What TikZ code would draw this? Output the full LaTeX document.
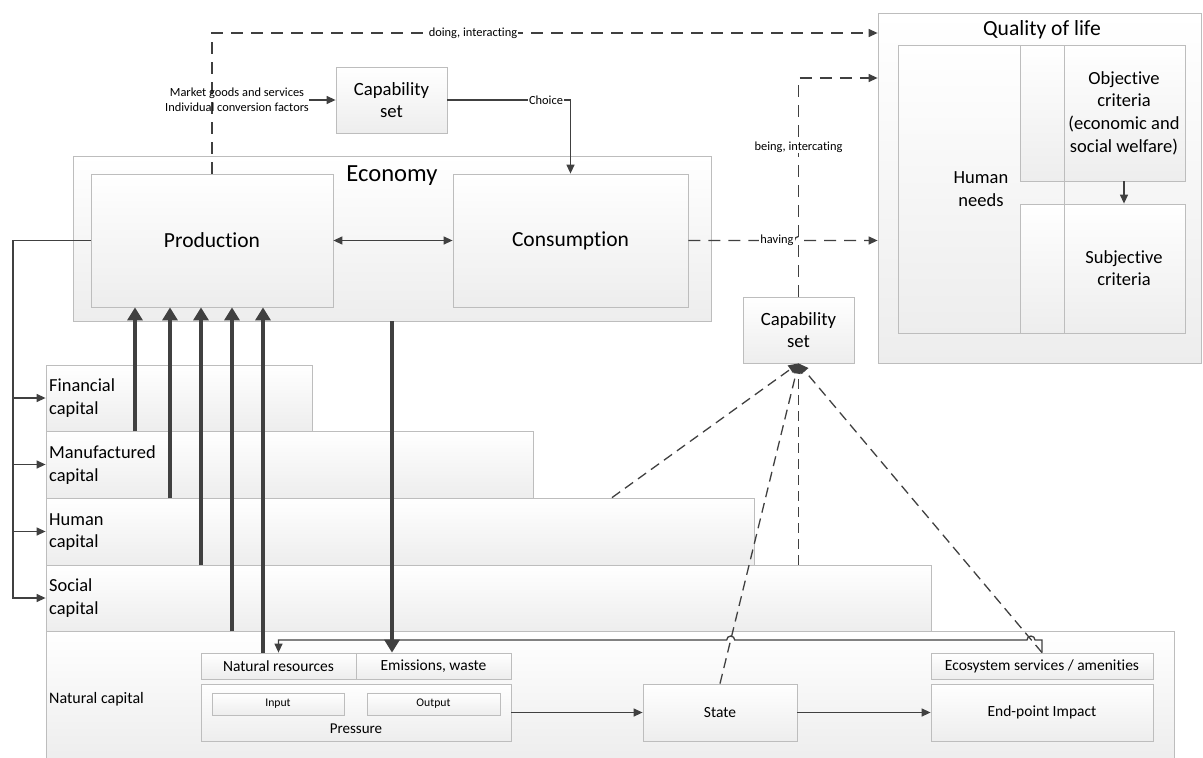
\documentclass[tikz,border=0pt]{standalone}
\usepackage{fontspec}
\setmainfont{Carlito}[Ligatures=NoCommon]
\usetikzlibrary{arrows.meta,shadows}
\definecolor{lnc}{HTML}{404040}
\definecolor{bd}{HTML}{BDBDBD}
\newcommand\myfs[2]{\fontsize{#1}{#2}\selectfont}
\begin{document}
\begin{tikzpicture}[x=1pt,y=-1pt,
  box/.style={draw=bd,line width=0.8pt,top color=white,bottom color=black!7,
    drop shadow={shadow xshift=1.2pt,shadow yshift=-1.2pt,fill=black,opacity=0.12},
    inner sep=0pt,align=center,text=black},
  txtA/.style={font=\myfs{18.5}{22.7},align=center,inner sep=0pt},
  captxt/.style={font=\myfs{18.4}{22.7},align=left,inner sep=0pt,anchor=west},
  lbl/.style={fill=white,inner sep=1pt,font=\myfs{12.4}{14.7}},
  ar/.style={draw=lnc,line width=1.3pt,-{Triangle[length=9pt,width=8pt]}},
  ar2/.style={draw=lnc,line width=1.3pt,-{Triangle[length=10pt,width=9pt]}},
  thk/.style={draw=lnc,line width=4.5pt,-{Triangle[length=13pt,width=15pt]}},
  dsh/.style={dash pattern=on 12pt off 8pt},
  dsh2/.style={dash pattern=on 10pt off 6pt}
]
\useasboundingbox (0,0) rectangle (1203,758);

% ---------- Quality of life ----------
\node[box,minimum width=323pt,minimum height=350pt] (qol) at (1039.5,188) {};
\node[font=\myfs{21.6}{26},inner sep=0pt] (qoltxt) at (1042,30) {Quality of life};
\node[box,minimum width=166pt,minimum height=288pt,font=\myfs{18.5}{22.7}] (hn) at (981,189) {Human\\needs};
\node[box,minimum width=165pt,minimum height=136pt] (obj) at (1102.5,113) {};
\node[box,minimum width=165pt,minimum height=129pt] (subj) at (1102.5,268.5) {};
\node[draw=bd,line width=0.8pt,minimum width=166pt,minimum height=288pt,inner sep=0pt] (hnb) at (981,189) {};
\node[txtA] (objtxt) at (1124,113) {Objective\\criteria\\(economic and\\social welfare)};
\node[txtA] (subjtxt) at (1124,268) {Subjective\\criteria};

% ---------- Economy ----------
\node[box,minimum width=638pt,minimum height=165pt] (econ) at (392,238.5) {};
\node[font=\myfs{24.6}{29},inner sep=0pt] (econtxt) at (392,176) {Economy};
\node[box,minimum width=242pt,minimum height=133pt,font=\myfs{21.5}{26}] (prod) at (212,240.5) {Production};
\node[box,minimum width=235pt,minimum height=133pt,font=\myfs{21.5}{26}] (cons) at (570.5,240.5) {Consumption};

% ---------- Capability sets ----------
\node[box,minimum width=111pt,minimum height=66pt,font=\myfs{18.7}{21.7}] (captop) at (391.5,100) {Capability\\set};
\node[box,minimum width=111pt,minimum height=66pt,font=\myfs{18.7}{21.7}] (caplow) at (798.5,330) {Capability\\set};

% ---------- Capitals ----------
\node[box,minimum width=1128pt,minimum height=129pt] (nat) at (610,695.5) {};
\node[box,minimum width=885pt,minimum height=66pt] (soc) at (488.5,598) {};
\node[box,minimum width=708pt,minimum height=67pt] (hum) at (400,531.5) {};
\node[box,minimum width=487pt,minimum height=67pt] (man) at (289.5,464.5) {};
\node[box,minimum width=266pt,minimum height=66pt] (fin) at (179,398) {};
\node[captxt] (fintxt) at (49,398) {Financial\\capital};
\node[captxt] (mantxt) at (49,465) {Manufactured\\capital};
\node[captxt] (humtxt) at (49,532) {Human\\capital};
\node[captxt] (soctxt) at (49,598) {Social\\capital};
\node[captxt,font=\myfs{16}{19}] (nattxt) at (49,699) {Natural capital};

% ---------- Natural capital inner ----------
\node[box,minimum width=155pt,minimum height=26pt,font=\myfs{15.5}{18}] (nres) at (278.5,666) {Natural resources};
\node[box,minimum width=155pt,minimum height=26pt,font=\myfs{15.5}{18}] (emis) at (433.5,666) {Emissions, waste};
\node[box,minimum width=310pt,minimum height=57pt] (press) at (356,712.5) {};
\node[box,minimum width=132pt,minimum height=22pt,font=\myfs{11.7}{14}] (inp) at (278,704) {Input};
\node[box,minimum width=133pt,minimum height=22pt,font=\myfs{11.7}{14}] (outp) at (433.5,704) {Output};
\node[font=\myfs{15}{18},inner sep=0pt] (presstxt) at (356,729) {Pressure};
\node[box,minimum width=154pt,minimum height=57pt,font=\myfs{15.5}{18}] (state) at (720,712.5) {State};
\node[box,minimum width=222pt,minimum height=26pt,font=\myfs{15.5}{18}] (eco) at (1042,666) {Ecosystem services / amenities};
\node[box,minimum width=222pt,minimum height=57pt,font=\myfs{15.5}{18}] (endp) at (1042,712.5) {End-point Impact};

% ---------- Connectors ----------
\coordinate (yd) at (0,33);
\coordinate (yb) at (0,78);
\coordinate (yh) at (0,640);
\coordinate (lx) at (13,0);

\draw[ar,dsh] (prod.north) |- (qol.west |- yd);
\node[font=\myfs{12.4}{14.7},inner sep=0pt,align=center] (mkt) at (237,100) {Market goods and services\\Individual conversion factors};
\draw[ar] (mkt.east) -- (captop.west);
\draw[ar] (captop.east) -| (cons.north);
\draw[draw=lnc,line width=1.3pt,{Triangle[length=9pt,width=8pt]}-{Triangle[length=9pt,width=8pt]}] (prod.east) -- (cons.west);
\draw[ar,dsh] (cons.east) -- (794.5,240.5) arc[start angle=180,end angle=0,radius=4pt] -- (qol.west |- cons.east);
\draw[ar,dsh] (caplow.north) |- (qol.west |- yb);

\draw[ar] (prod.west) -| (lx |- soc.west) -- (soc.west);
\foreach \n in {fin,man,hum} {\draw[ar] (lx |- \n.west) -- (\n.west);}

\coordinate (t1) at (135,0);
\coordinate (t2) at (170,0);
\coordinate (t3) at (201,0);
\coordinate (t4) at (232,0);
\coordinate (t5) at (263,0);
\coordinate (t6) at (392,0);

\draw[ar] (eco.north) -- (eco.north |- yh) -- (1035,640) arc[start angle=0,end angle=180,radius=4pt] -- (734.7,640) arc[start angle=0,end angle=180,radius=4pt] -- (nres.north |- yh) -- (nres.north);

\draw[thk] (fin.south -| t1) -- (prod.south -| t1);
\draw[thk] (man.south -| t2) -- (prod.south -| t2);
\draw[thk] (hum.south -| t3) -- (prod.south -| t3);
\draw[thk] (soc.south -| t4) -- (prod.south -| t4);
\draw[thk] (nres.north -| t5) -- (prod.south -| t5);
\draw[thk] (econ.south -| t6) -- (emis.north -| t6);

\coordinate (hx) at (612,0);
\draw[ar2,dsh2] (hum.north -| hx) -- (caplow.south);
\draw[ar2,dsh2] (soc.north -| caplow.south) -- (caplow.south);
\draw[ar2,dsh2] (state.north) -- (caplow.south);
\draw[ar2,dsh2] (eco.north) -- (caplow.south);

\draw[ar] (press.east) -- (state.west);
\draw[ar] (state.east) -- (endp.west);

\coordinate (ox) at (1124,0);
\draw[ar] (obj.south -| ox) -- (subj.north -| ox);

% ---------- Labels ----------
\node[lbl] (ldo) at (473,33) {doing, interacting};
\node[lbl] (lch) at (546,100) {Choice};
\node[lbl] (lhv) at (777,240.5) {having};
\node[lbl] (lbe) at (798.5,147) {being, intercating};
\end{tikzpicture}
\end{document}
